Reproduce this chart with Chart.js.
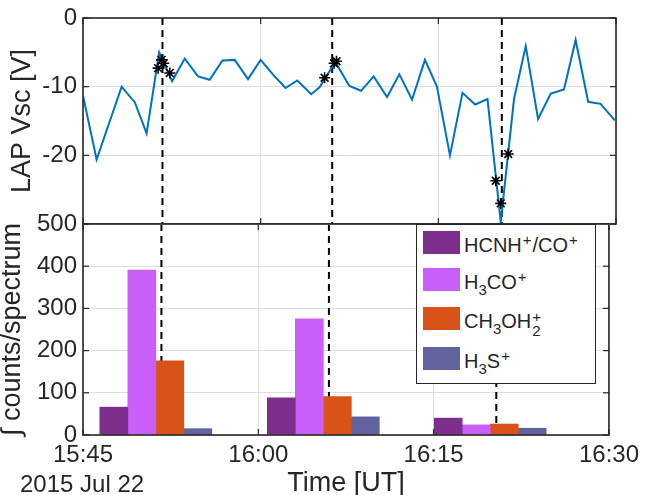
<!DOCTYPE html>
<html><head><meta charset="utf-8">
<script src="https://cdn.jsdelivr.net/npm/chart.js@4.4.0/dist/chart.umd.min.js"></script>
<style>
html,body{margin:0;padding:0;background:#fff;}
#wrap{position:relative;width:647px;height:495px;overflow:hidden;font-family:"Liberation Sans",Arial,Helvetica,sans-serif;color:#262626;}
#wrap canvas{position:absolute;left:0;top:0;}
#legend{position:absolute;left:416px;top:224px;width:180px;height:160px;box-sizing:border-box;border:1.5px solid #262626;background:#fff;}
.sw{position:absolute;left:6px;width:37px;height:23px;}
.lt{position:absolute;left:47px;height:24px;line-height:24px;font-size:20px;white-space:nowrap;}
.lt sup{font-size:15px;vertical-align:7px;line-height:0;padding:0 1px;}
.lt sub{font-size:15px;vertical-align:-6px;line-height:0;}
.ss{position:relative;display:inline-block;width:11px;height:0;}
.ss .a{position:absolute;left:1px;bottom:4px;font-size:15px;line-height:15px;}
.ss .b{position:absolute;left:1px;top:-5px;font-size:15px;line-height:15px;}
#date{position:absolute;left:20px;top:472px;font-size:24px;line-height:24px;white-space:nowrap;}
</style></head>
<body>
<div id="wrap">
  <canvas id="c2" width="647" height="495"></canvas>
  <canvas id="c1" width="647" height="495"></canvas>
  <div id="legend">
    <div class="sw" style="top:6px;background:#7E2F8E"></div>
    <div class="lt" style="top:8px">HCNH<sup>+</sup>/CO<sup>+</sup></div>
    <div class="sw" style="top:43px;background:#C95EF9"></div>
    <div class="lt" style="top:45px">H<sub>3</sub>CO<sup>+</sup></div>
    <div class="sw" style="top:82px;background:#D95319"></div>
    <div class="lt" style="top:84px">CH<sub>3</sub>OH<span class="ss"><span class="a">+</span><span class="b">2</span></span></div>
    <div class="sw" style="top:122px;background:#62629E"></div>
    <div class="lt" style="top:124px">H<sub>3</sub>S<sup>+</sup></div>
  </div>
  <div id="date">2015 Jul 22</div>
</div>
<script>
// ---- data (time in minutes after 15:45 UT, 2015 Jul 22) ----
const xTickLabels = ['15:45', '16:00', '16:15', '16:30'];
const lapTime = [0, 1.15, 3.26, 4.38, 5.37, 6.43, 7.52, 8.59, 9.71, 10.70, 11.77, 12.81, 13.93, 15.0, 16.03, 17.10, 18.09, 19.27, 19.97, 21.3, 22.49, 23.48, 24.54, 25.67, 26.71, 27.78, 28.87, 29.88, 30.98, 32.04, 33.11, 34.15, 35.27, 36.39, 37.38, 38.42, 39.49, 40.61, 41.59, 42.65, 43.70, 44.9];
const lapVsc  = [-11.3, -20.6, -10.0, -12.3, -16.8, -5.0, -9.2, -5.9, -8.5, -9.0, -6.2, -6.1, -8.9, -6.1, -8.2, -10.2, -9.1, -11.1, -10.1, -6.4, -9.9, -10.6, -8.5, -11.5, -8.2, -11.9, -6.1, -10.0, -20.0, -10.9, -12.6, -11.8, -29.7, -11.8, -4.1, -14.7, -11.0, -10.4, -3.2, -12.2, -12.5, -14.9];
const starTime = [6.34, 6.63, 6.82, 7.33, 20.4, 21.2, 21.4, 34.85, 35.27, 35.9];
const starVsc  = [-7.3, -6.1, -6.6, -8.0, -8.7, -6.6, -6.3, -23.7, -27.0, -19.8];
const eventTime = [6.71, 21.04, 35.36];
const groupTime = [6.23, 20.56, 34.84];
const hcnhCo = [66, 88, 40];
const h3co   = [391, 275, 24];
const ch3oh2 = [176, 91, 26];
const h3s    = [15, 43, 16];
const seriesNames = ['HCNH+/CO+', 'H3CO+', 'CH3OH2+', 'H3S+'];
const seriesColors = ['#7E2F8E', '#C95EF9', '#D95319', '#62629E'];

const FONT = '"Liberation Sans", Arial, Helvetica, sans-serif';
const INK = '#262626';
const GRID = '#dedede';

function pts(xs, ys) { return xs.map((x, i) => ({x: x, y: ys[i]})); }

const eventLines = {
  id: 'eventLines',
  beforeDatasetsDraw(chart) {
    const {ctx, chartArea: a, scales} = chart;
    ctx.save();
    ctx.strokeStyle = '#000';
    ctx.lineWidth = 2;
    ctx.setLineDash([7, 5]);
    eventTime.forEach(t => {
      const px = scales.x.getPixelForValue(t);
      ctx.beginPath(); ctx.moveTo(px, a.top); ctx.lineTo(px, a.bottom); ctx.stroke();
    });
    ctx.restore();
  }
};
const frame = {
  id: 'frame',
  afterDraw(chart) {
    const {ctx, chartArea: a, scales} = chart;
    ctx.save();
    ctx.strokeStyle = INK;
    ctx.lineWidth = 1.2;
    const L = 6;
    const seg = (x1, y1, x2, y2) => { ctx.beginPath(); ctx.moveTo(x1, y1); ctx.lineTo(x2, y2); ctx.stroke(); };
    scales.x.ticks.forEach(t => {
      const px = scales.x.getPixelForValue(t.value);
      seg(px, a.bottom, px, a.bottom - L);
      seg(px, a.top, px, a.top + L);
    });
    scales.y.ticks.forEach(t => {
      const py = scales.y.getPixelForValue(t.value);
      seg(a.left, py, a.left + L, py);
      seg(a.right, py, a.right - L, py);
    });
    ctx.lineWidth = 1.6;
    ctx.strokeRect(a.left, a.top, a.right - a.left, a.bottom - a.top);
    ctx.restore();
  }
};

const fixW = s => { s.width = 83; };

// ---- top panel: LAP spacecraft potential ----
new Chart(document.getElementById('c1'), {
  type: 'line',
  data: {
    datasets: [
      {data: pts(starTime, starVsc), showLine: false, pointStyle: 'star', pointRadius: 5.5,
       borderColor: '#000', backgroundColor: '#000', pointBorderWidth: 1.6, order: 0},
      {data: pts(lapTime, lapVsc), borderColor: '#0072BD', borderWidth: 2, pointRadius: 0,
       tension: 0, fill: false, order: 1}
    ]
  },
  options: {
    responsive: false, animation: false, events: [],
    layout: {padding: {left: 0, right: 31, top: 14, bottom: 271}},
    plugins: {legend: {display: false}, tooltip: {enabled: false}},
    scales: {
      x: {type: 'linear', min: 0, max: 45, afterFit: s => { s.height = 0; },
          ticks: {stepSize: 15, display: false},
          grid: {color: GRID, lineWidth: 1, drawTicks: false}, border: {display: false}},
      y: {min: -30, max: 0, afterFit: fixW,
          ticks: {stepSize: 10, padding: 6, color: INK, font: {family: FONT, size: 24, lineHeight: 1},
                  callback: v => (v === -30 ? '' : String(v))},
          grid: {color: GRID, lineWidth: 1, drawTicks: false}, border: {display: false},
          title: {display: true, text: 'LAP Vsc [V]', color: INK, padding: {top: 9, bottom: 0},
                  font: {family: FONT, size: 27, lineHeight: 1}}}
    }
  },
  plugins: [eventLines, frame]
});

// ---- bottom panel: integrated ion counts ----
const barSeries = [hcnhCo, h3co, ch3oh2, h3s];
new Chart(document.getElementById('c2'), {
  type: 'bar',
  data: {
    datasets: barSeries.map((vals, k) => ({
      label: seriesNames[k], data: pts(groupTime, vals),
      backgroundColor: seriesColors[k], borderWidth: 0, barThickness: 28
    }))
  },
  options: {
    responsive: false, animation: false, events: [],
    layout: {padding: {left: 0, right: 31, top: 224, bottom: 0}},
    plugins: {legend: {display: false}, tooltip: {enabled: false}},
    scales: {
      x: {type: 'linear', min: 0, max: 45, offset: false, afterFit: s => { s.height = 60; },
          ticks: {stepSize: 15, padding: 8, color: INK, font: {family: FONT, size: 24, lineHeight: 1},
                  maxRotation: 0, callback: v => xTickLabels[Math.round(v / 15)]},
          grid: {color: GRID, lineWidth: 1, drawTicks: false, offset: false}, border: {display: false},
          title: {display: true, text: 'Time [UT]', color: INK, padding: {top: 0, bottom: 1},
                  font: {family: FONT, size: 27, lineHeight: 0.8}}},
      y: {min: 0, max: 500, afterFit: fixW,
          ticks: {stepSize: 100, padding: 6, color: INK, font: {family: FONT, size: 24, lineHeight: 1}},
          grid: {color: GRID, lineWidth: 1, drawTicks: false}, border: {display: false},
          title: {display: true, text: '\u222B counts/spectrum', color: INK, padding: {top: 0, bottom: 0},
                  font: {family: FONT, size: 27, lineHeight: 0.9}}}
    }
  },
  plugins: [eventLines, frame]
});
</script>
</body></html>
